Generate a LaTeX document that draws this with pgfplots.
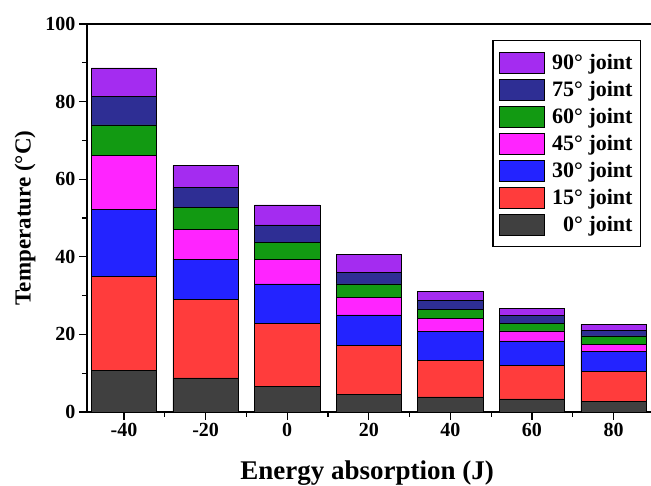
\documentclass[border=0pt]{standalone}
\usepackage{pgfplots}
\pgfplotsset{compat=1.18}
\usepackage{pgfplotstable}
\usepackage{fontspec}
\setmainfont{Liberation Serif}
\definecolor{cA}{HTML}{404040}
\definecolor{cB}{HTML}{FF3C3C}
\definecolor{cC}{HTML}{2323FF}
\definecolor{cD}{HTML}{FF24FF}
\definecolor{cE}{HTML}{129A12}
\definecolor{cF}{HTML}{2E2E94}
\definecolor{cG}{HTML}{A42CF0}
\pgfplotstableread{
x   a     b     c     d     e    f    g
-40 10.8  24.2  17.2  14.0  7.8  7.3  7.4
-20 8.8   20.2  10.4  7.7   5.6  5.1  5.7
0   6.5   16.3  10.2  6.3   4.5  4.4  5.2
20  4.6   12.5  7.9   4.6   3.4  2.9  4.7
40  3.9   9.5   7.3   3.4   2.4  2.3  2.2
60  3.35  8.65  6.3   2.6   1.9  2.0  2.0
80  2.8   7.6   5.3   1.8   2.1  1.4  1.6
}\data
\begin{document}
\begin{tikzpicture}
\begin{axis}[
  at={(0pt,0pt)}, anchor=south west,
  scale only axis, width=566pt, height=388pt,
  xmin=-49.07, xmax=89.66, ymin=0, ymax=100,
  ybar stacked, bar width=16,
  axis line style={line width=1.4pt},
  tick style={line width=1.3pt, black},
  tick align=outside,
  major tick length=8pt, minor tick length=5pt,
  xtick pos=bottom, ytick pos=left,
  xtick={-40,-20,0,20,40,60,80},
  xticklabels={-40,-20,0,20,40,60,80},
  minor xtick={-30,-10,10,30,50,70},
  ytick={0,20,40,60,80,100},
  yticklabels={0,20,40,60,80,100},
  minor ytick={10,30,50,70,90},
  ticklabel style={font=\fontsize{20}{24}\selectfont\bfseries},
  every axis y label/.style={at={(axis description cs:-0.1095,0.5)}, rotate=90, anchor=center},
  every axis x label/.style={at={(axis description cs:0.495,-0.157)}, anchor=center},
  ylabel={\fontsize{23}{27}\selectfont\bfseries Temperature (°C)},
  xlabel={\fontsize{27}{32}\selectfont\bfseries Energy absorption (J)},
  reverse legend,
  legend cell align=right,
  legend style={at={(0.979,0.959)}, anchor=north east, draw=black, line width=1.2pt,
    font=\fontsize{22}{26}\selectfont\bfseries, row sep=5.5pt, inner xsep=6pt, inner ysep=11pt},
  legend image code/.code={\draw[#1, line width=0.6pt] (0pt,-10.5pt) rectangle (45pt,10.5pt); \path[draw=none,fill=none] (0pt,0pt) -- (51pt,0pt);},
  every axis plot/.append style={draw=black, line width=0.6pt},
]
\addplot[fill=cA] table[x=x,y=a]{\data};
\addplot[fill=cB] table[x=x,y=b]{\data};
\addplot[fill=cC] table[x=x,y=c]{\data};
\addplot[fill=cD] table[x=x,y=d]{\data};
\addplot[fill=cE] table[x=x,y=e]{\data};
\addplot[fill=cF] table[x=x,y=f]{\data};
\addplot[fill=cG] table[x=x,y=g]{\data};
\legend{0° joint,15° joint,30° joint,45° joint,60° joint,75° joint,90° joint}
\end{axis}
\pgfresetboundingbox
\path (-87pt,-74pt) rectangle (564pt,412pt);
\end{tikzpicture}
\end{document}
